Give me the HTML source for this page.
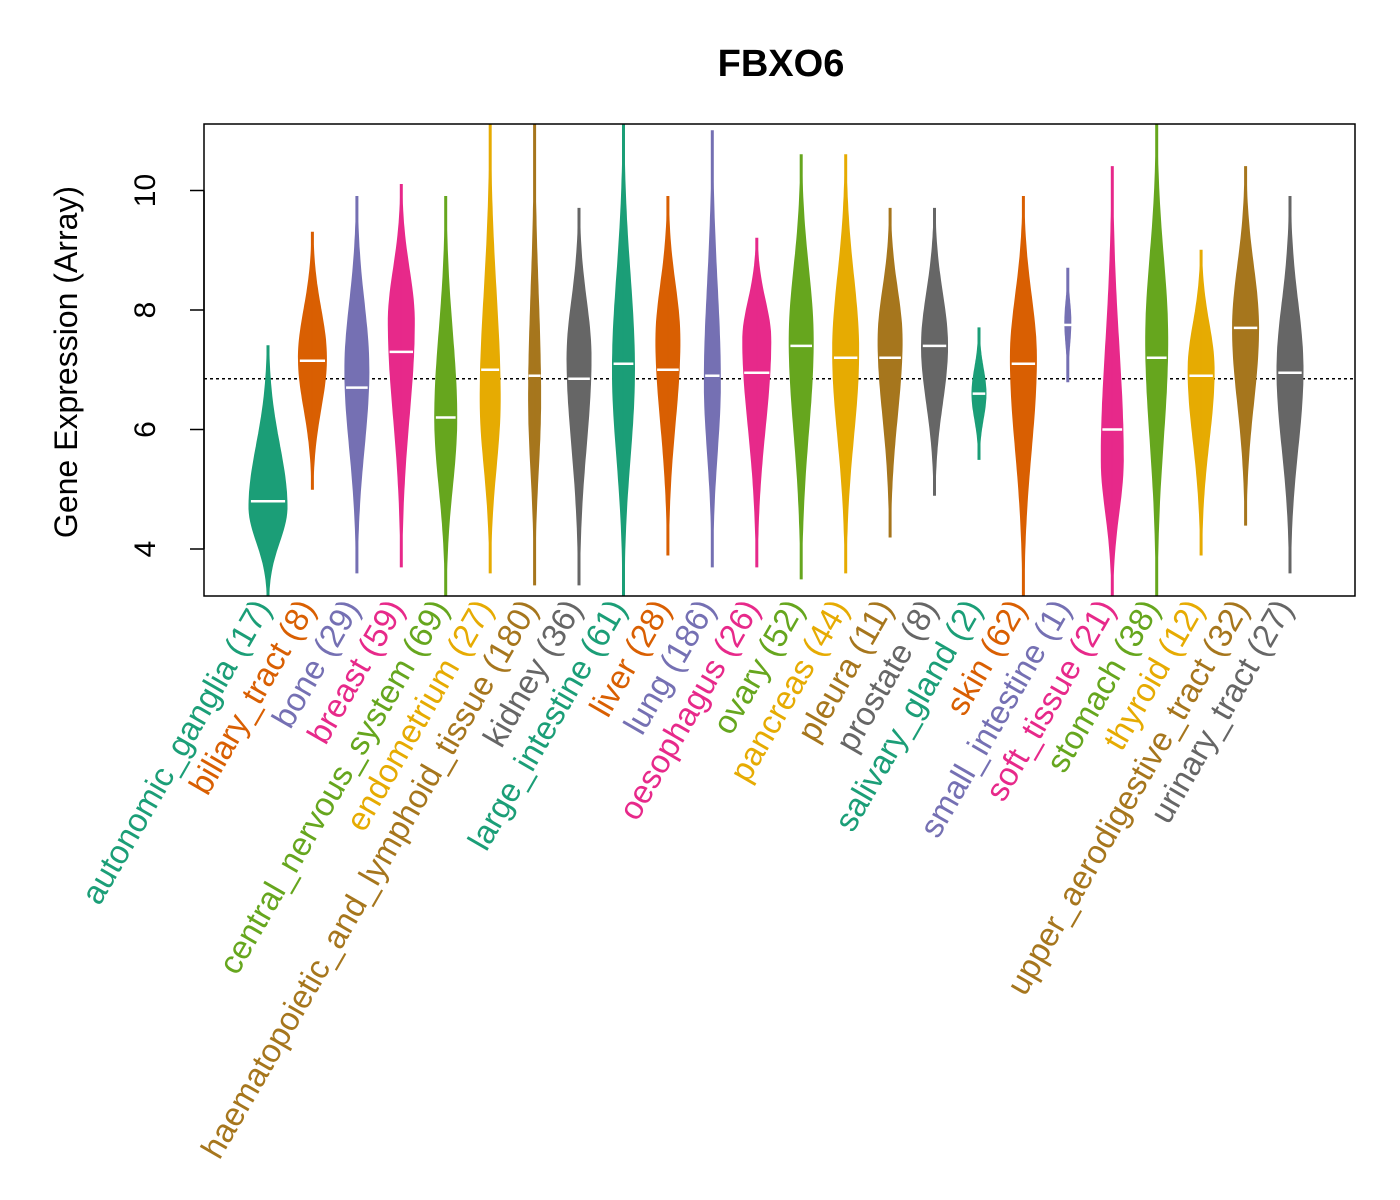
<!DOCTYPE html>
<html><head><meta charset="utf-8"><title>FBXO6</title>
<style>body{margin:0;background:#fff}svg{display:block;font-family:"Liberation Sans",Arial,sans-serif}</style>
</head><body>
<svg id="chart" width="1400" height="1200" viewBox="0 0 1400 1200" xmlns="http://www.w3.org/2000/svg">
<text x="781" y="76" text-anchor="middle" font-size="38" font-weight="bold">FBXO6</text>
<text transform="translate(77,362) rotate(-90)" text-anchor="middle" font-size="32">Gene Expression (Array)</text>
<g id="beans"></g>
<g id="yaxis"></g>
<g id="labels"></g>
<rect x="204" y="124" width="1151" height="472" fill="none" stroke="#000" stroke-width="1.5"/>
</svg>
<script>
const categories=["autonomic_ganglia (17)","biliary_tract (8)","bone (29)","breast (59)","central_nervous_system (69)","endometrium (27)","haematopoietic_and_lymphoid_tissue (180)","kidney (36)","large_intestine (61)","liver (28)","lung (186)","oesophagus (26)","ovary (52)","pancreas (44)","pleura (11)","prostate (8)","salivary_gland (2)","skin (62)","small_intestine (1)","soft_tissue (21)","stomach (38)","thyroid (12)","upper_aerodigestive_tract (32)","urinary_tract (27)"];
const lows=[3.2,5.0,3.6,3.7,3.2,3.6,3.4,3.4,3.2,3.9,3.7,3.7,3.5,3.6,4.2,4.9,5.5,3.2,6.8,3.2,3.2,3.9,4.4,3.6];
const highs=[7.4,9.3,9.9,10.1,9.9,11.1,11.1,9.7,11.1,9.9,11.0,9.2,10.6,10.6,9.7,9.7,7.7,9.9,8.7,10.4,11.1,9.0,10.4,9.9];
const peaks=[4.7,7.2,7.0,7.8,6.2,6.5,6.5,7.2,7.0,7.5,6.8,7.5,7.5,7.3,7.5,7.4,6.6,7.2,7.8,5.5,7.5,7.0,7.7,7.0];
const widths=[19,14,12,13,11,10,6,12,11,12,8,14,12,13,12,13,7,13,3,11,11,13,13,13];
const means=[4.8,7.15,6.7,7.3,6.2,7.0,6.9,6.85,7.1,7.0,6.9,6.95,7.4,7.2,7.2,7.4,6.6,7.1,7.75,6.0,7.2,6.9,7.7,6.95];
const yTicks=[4,6,8,10];
const overallMean=6.85;
const colors=["#1B9E77","#D95F02","#7570B3","#E7298A","#66A61E","#E6AB02","#A6761D","#666666"];
const NS="http://www.w3.org/2000/svg";
const X0=204,X1=1355,Y0=124,Y1=596;
const xs=i=>268+i*(1290-268)/(categories.length-1);
const ys=v=>549-(v-4)*59.75;
function mk(t,a,p){const e=document.createElementNS(NS,t);for(const k in a)e.setAttribute(k,a[k]);p.appendChild(e);return e;}
const beans=document.getElementById('beans');
const clip=mk('clipPath',{id:'pc'},beans);mk('rect',{x:X0,y:Y0,width:X1-X0,height:Y1-Y0},clip);
const bg=mk('g',{'clip-path':'url(#pc)'},beans);
const ml=mk('line',{x1:X0,x2:X1,y1:ys(overallMean),y2:ys(overallMean),stroke:'#000','stroke-width':1.5,'stroke-dasharray':'3,3'},bg);


categories.forEach((c,i)=>{
  const col=colors[i%8],cx=xs(i),lo=lows[i],hi=highs[i],pk=peaks[i],hw=widths[i];
  const sL=(pk-lo)/2.6,sR=(hi-pk)/2.6;
  const pts=[];const N=60;
  for(let k=0;k<=N;k++){const v=lo+(hi-lo)*k/N;const s=v<pk?sL:sR;const w=Math.max(1,hw*Math.exp(-0.5*((v-pk)/s)**2));pts.push([v,w]);}
  let d='';pts.forEach((p,k)=>{d+=(k?'L':'M')+(cx+p[1]).toFixed(1)+','+ys(p[0]).toFixed(1);});
  for(let k=N;k>=0;k--){d+='L'+(cx-pts[k][1]).toFixed(1)+','+ys(pts[k][0]).toFixed(1);}
  const g=mk('g',{},bg);
  
  
  mk('path',{d:d+'Z',fill:col,stroke:col,'stroke-width':1},g);
  mk('line',{x1:cx,x2:cx,y1:ys(hi),y2:ys(lo),stroke:col,'stroke-width':1},g);
  const mw=Math.max(hw*0.9,6);
  const m=mk('line',{x1:cx-mw,x2:cx+mw,y1:ys(means[i]),y2:ys(means[i]),stroke:'#fff','stroke-width':2.5},g);
  
  
  const lab=mk('text',{transform:`translate(${cx+4},608) rotate(-60)`,'text-anchor':'end','font-size':33,fill:col},document.getElementById('labels'));
  lab.textContent=c;
  
  
});
const ya=document.getElementById('yaxis');
yTicks.forEach(t=>{
  const l=mk('line',{x1:190,x2:X0,y1:ys(t),y2:ys(t),stroke:'#000','stroke-width':1.5},ya);
  
  
  const tx=mk('text',{transform:`translate(155,${ys(t)}) rotate(-90)`,'text-anchor':'middle','font-size':30},ya);
  tx.textContent=t;
  
  
});
mk('line',{x1:X0,x2:X0,y1:ys(4),y2:ys(10),stroke:'#000','stroke-width':1.5},ya);
</script>
</body></html>
